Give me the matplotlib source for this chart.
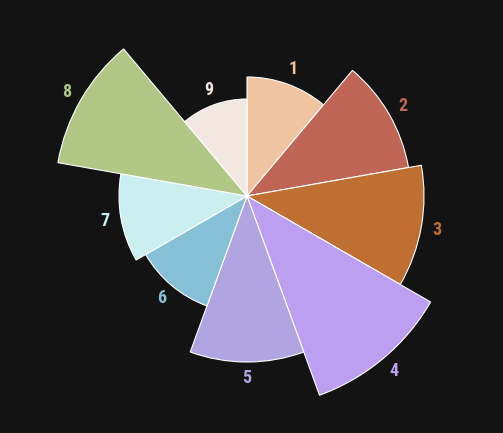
import matplotlib.pyplot as plt
import numpy as np

# categories and values
categories = ['1', '2', '3', '4', '5', '6', '7', '8', '9']
values = [119, 164, 177, 212, 166, 117, 128, 192, 97]
colors = ['#f0c3a1', '#bf6556', '#c06f33', '#bc9ff0', '#b0a5e0',
          '#86c0d6', '#cbeeee', '#b1c786', '#f3e7e2']

bg = '#131313'
W, H = 503, 433
cx, cy = 247, 196   # centre in pixels (from top-left)
R = 240

fig = plt.figure(figsize=(W / 100, H / 100), dpi=100, facecolor=bg)
ax = fig.add_axes([(cx - R) / W, (H - cy - R) / H, 2 * R / W, 2 * R / H],
                  projection='polar')
ax.set_facecolor(bg)
ax.set_theta_zero_location('N')
ax.set_theta_direction(-1)
ax.set_ylim(0, R)
ax.axis('off')

n = len(values)
width = 2 * np.pi / n
theta = np.arange(n) * width + width / 2

ax.bar(theta, values, width=width, color=colors, edgecolor='white',
       linewidth=0.8, align='center')

for t, v, lab, c in zip(theta, values, categories, colors):
    ax.text(t, v + 16, lab, color=c, fontsize=13, fontweight='bold',
            ha='center', va='center',
            family=['Roboto Condensed', 'Liberation Sans Narrow', 'DejaVu Sans'])

fig.savefig('out.png', dpi=100, facecolor=bg)
